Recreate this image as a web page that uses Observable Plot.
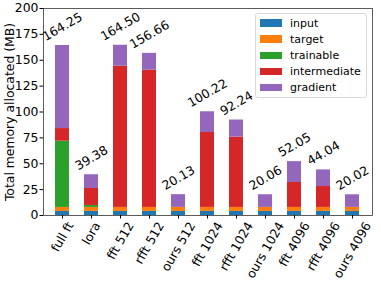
<!DOCTYPE html>
<html><head><meta charset="utf-8">
<script src="https://cdn.jsdelivr.net/npm/d3@7"></script>
<script src="https://cdn.jsdelivr.net/npm/@observablehq/plot@0.6"></script>
<style>
body{margin:0;background:#fff;font-family:"DejaVu Sans",sans-serif;}
#wrap{position:relative;width:381px;height:282px;}
#legend{position:absolute;left:255px;top:13px;width:112px;height:85px;border:1px solid #d9d9d9;border-radius:3px;background:rgba(255,255,255,0.85);box-sizing:border-box;padding-top:1px;font-size:11px;color:#000;}
.row{display:flex;align-items:center;height:16.15px;}
.sw{width:22px;height:7.5px;margin-left:3.5px;margin-right:8.5px;}
</style></head><body><div id="wrap"></div>
<script>
const categories = ["full ft","lora","fft 512","rfft 512","ours 512","fft 1024","rfft 1024","ours 1024","fft 4096","rfft 4096","ours 4096"];
const series = ["input","target","trainable","intermediate","gradient"];
const colors = ["#1f77b4","#ff7f0e","#2ca02c","#d62728","#9467bd"];
const input = [3.9,3.9,3.9,3.9,3.9,3.9,3.9,3.9,3.9,3.9,3.9];
const target = [3.9,3.9,3.9,3.9,3.9,3.9,3.9,3.9,3.9,3.9,3.9];
const trainable = [64.0,1.9,0,0,0,0,0,0,0,0,0];
const intermediate = [12.2,16.4,136.5,132.6,0,72.4,67.9,0,24.1,20.2,0];
const gradient = [80.25,13.28,20.2,16.26,12.33,20.02,16.54,12.26,20.15,16.04,12.22];
const totals = [164.25,39.38,164.50,156.66,20.13,100.22,92.24,20.06,52.05,44.04,20.02];
const totalLabels = ["164.25","39.38","164.50","156.66","20.13","100.22","92.24","20.06","52.05","44.04","20.02"];
const yTicks = [0,25,50,75,100,125,150,175,200];
const yLabel = "Total memory allocated (MB)";

const seriesValues = [input, target, trainable, intermediate, gradient];
const rows = [];
categories.forEach((c, i) => {
  series.forEach((s, j) => rows.push({cat: c, series: s, value: seriesValues[j][i]}));
});

const FS = 12.4;
const ctx = document.createElement("canvas").getContext("2d");
ctx.font = `${FS}px "DejaVu Sans"`;
const tw = t => ctx.measureText(t).width;
const lineH = FS * 1.17;

const xLabelMarks = categories.map(c => {
  const w = tw(c);
  const h = w * Math.sin(Math.PI/3) + lineH * Math.cos(Math.PI/3);
  return Plot.text([c], {x: d => d, frameAnchor: "bottom", dy: 4 + h/2, rotate: -60,
    textAnchor: "middle", lineAnchor: "middle", fontSize: FS, fill: "black"});
});
const valueMarks = categories.map((c, i) => {
  const w = tw(totalLabels[i]);
  const h = w * Math.sin(Math.PI/6) + lineH * Math.cos(Math.PI/6);
  return Plot.text([c], {x: d => d, y: () => totals[i], text: () => totalLabels[i], dy: -(1.5 + h/2), rotate: -30,
    textAnchor: "middle", lineAnchor: "middle", fontSize: FS, fill: "black"});
});

const chart = Plot.plot({
  width: 381, height: 282,
  marginLeft: 43, marginRight: 9, marginTop: 8, marginBottom: 67,
  style: {fontFamily: "DejaVu Sans", fontSize: FS + "px", background: "white", color: "black"},
  x: {type: "band", domain: categories, paddingInner: 0.513, paddingOuter: 0.28},
  y: {domain: [0, 200]},
  color: {domain: series, range: colors},
  marks: [
    Plot.barY(rows, {x: "cat", y: "value", fill: "series"}),
    Plot.frame({stroke: "#333", strokeWidth: 0.8}),
    Plot.axisY({ticks: yTicks, tickSize: 3.5, tickPadding: 1.5, label: null, fontSize: FS}),
    Plot.axisX({tickSize: 3.5, tickFormat: () => "", label: null}),
    Plot.text([yLabel], {frameAnchor: "left", dx: -33.5, rotate: -90, textAnchor: "middle", lineAnchor: "middle", fontSize: FS, fill: "black"}),
    ...xLabelMarks,
    ...valueMarks
  ]
});
const wrap = document.getElementById("wrap");
wrap.appendChild(chart);

const leg = document.createElement("div");
leg.id = "legend";
series.forEach((s, j) => {
  const r = document.createElement("div");
  r.className = "row";
  const sw = document.createElement("span");
  sw.className = "sw";
  sw.style.background = colors[j];
  const t = document.createElement("span");
  t.textContent = s;
  r.appendChild(sw); r.appendChild(t);
  leg.appendChild(r);
});
wrap.appendChild(leg);
</script></body></html>
